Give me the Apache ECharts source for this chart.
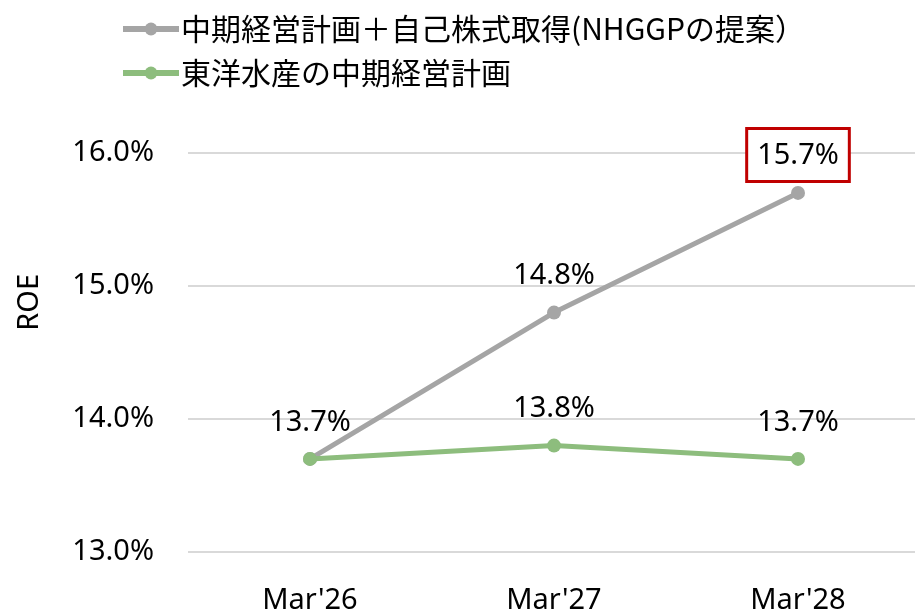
<!DOCTYPE html>
<html>
<head>
<meta charset="utf-8">
<script src="https://cdn.jsdelivr.net/npm/echarts@6/dist/echarts.min.js"></script>
<style>
  html, body { margin: 0; padding: 0; background: #fff; }
  #chart { width: 915px; height: 611px; }
</style>
</head>
<body>
<div id="chart"></div>
<script>
const categories = ["Mar'26", "Mar'27", "Mar'28"];
const seriesNames = ['中期経営計画＋自己株式取得(NHGGPの提案）', '東洋水産の中期経営計画'];
const proposalRoe = [13.7, 14.8, 15.7];
const planRoe = [13.7, 13.8, 13.7];
const yTicks = [13, 14, 15, 16];

const FONT = "'Noto Sans', 'Noto Sans CJK JP', sans-serif";
const FS = 29;

window.onload = function() {
    const chart = echarts.init(document.getElementById('chart'));

    const labelFmt = p => p.value.toFixed(1) + '%';

    const option = {
        animation: false,
        textStyle: { fontFamily: FONT },
        legend: {
            orient: 'vertical',
            left: 115,
            top: 9,
            itemWidth: 56,
            itemHeight: 16,
            itemGap: 14,
            lineStyle: { width: 6 },
            textStyle: { fontSize: 30, lineHeight: 30, color: '#000', fontFamily: "'Noto Sans CJK JP', sans-serif", padding: [0, 0, 0, -3] },
            data: [seriesNames[0], seriesNames[1]]
        },
        grid: { left: 188, right: -5, top: 153, bottom: 59, outerBoundsMode: 'none', containLabel: false },
        xAxis: {
            type: 'category',
            data: categories,
            boundaryGap: true,
            axisLine: { show: false },
            axisTick: { show: false },
            axisLabel: { fontSize: FS, color: '#000', margin: 34 }
        },
        yAxis: {
            type: 'value',
            min: yTicks[0],
            max: yTicks[yTicks.length - 1],
            interval: 1,
            axisLine: { show: false },
            axisTick: { show: false },
            axisLabel: {
                fontSize: FS, color: '#000', margin: 34,
                formatter: v => v.toFixed(1) + '%'
            },
            splitLine: { lineStyle: { color: '#d9d9d9', width: 2 } }
        },
        graphic: [{
            type: 'text',
            left: 15,
            top: 274,
            rotation: Math.PI / 2,
            style: { text: 'ROE', fontSize: FS, fill: '#000', fontFamily: FONT }
        }],
        series: [
            {
                name: seriesNames[1],
                type: 'line',
                data: planRoe,
                color: '#8dbd7d',
                symbol: 'circle',
                symbolSize: 14,
                lineStyle: { width: 5 },
                label: {
                    show: true, position: 'top', distance: 15,
                    fontSize: FS, color: '#000', formatter: labelFmt
                },
                z: 3
            },
            {
                name: seriesNames[0],
                type: 'line',
                data: proposalRoe.map((v, i) => {
                    if (i === 0) return { value: v, label: { show: false } };
                    if (i === proposalRoe.length - 1) {
                        return {
                            value: v,
                            label: {
                                backgroundColor: '#fff',
                                borderColor: '#c00000',
                                borderWidth: 3,
                                padding: [11, 9, 10, 9],
                                distance: 6
                            }
                        };
                    }
                    return v;
                }),
                color: '#a5a5a5',
                symbol: 'circle',
                symbolSize: 14,
                lineStyle: { width: 5 },
                label: {
                    show: true, position: 'top', distance: 15,
                    fontSize: FS, color: '#000', formatter: labelFmt
                },
                z: 2
            }
        ]
    };
    chart.setOption(option);
};
</script>
</body>
</html>
